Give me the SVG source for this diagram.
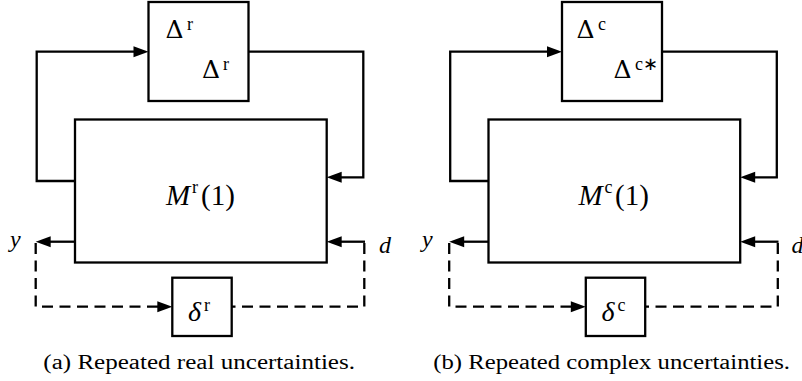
<svg xmlns="http://www.w3.org/2000/svg" width="802" height="381" viewBox="0 0 802 381">
  <rect width="802" height="381" fill="#fff"/>

  <!-- (a) repeated real uncertainties -->
  <g id="panel-a">
    <g id="connectors-a" fill="none" stroke="#000" stroke-width="2.3">
      <path d="M75,181 H36.7 V51.7 H140"/>
      <polygon fill="#000" stroke="none" points="133.5,46.2 148.5,51.7 133.5,57.2"/>
      <path d="M248.3,51.7 H363.3 V177.3 H335"/>
      <polygon fill="#000" stroke="none" points="341.7,171.8 326.7,177.3 341.7,182.8"/>
      <path d="M75,241.7 H44"/>
      <polygon fill="#000" stroke="none" points="50.7,236.2 35.7,241.7 50.7,247.2"/>
      <path d="M365,241.7 H335"/>
      <polygon fill="#000" stroke="none" points="341.7,236.2 326.7,241.7 341.7,247.2"/>
      <path stroke-dasharray="11 6.5" d="M35.7,243 V306.7 H164"/>
      <polygon fill="#000" stroke="none" points="157.3,301.2 172.3,306.7 157.3,312.2"/>
      <path stroke-dasharray="11 6.5" d="M364.3,243 V306.7 H231.7"/>
    </g>
    <g id="delta-r">
      <rect fill="#fff" stroke="#000" stroke-width="2.3" x="148.5" y="2" width="100" height="99"/>
      <text font-family="DejaVu Serif" font-size="25"><tspan x="165.5" y="38.3">Δ</tspan><tspan font-size="18" font-family="Liberation Serif" x="187" y="30">r</tspan></text>
      <text font-family="DejaVu Serif" font-size="25"><tspan x="202" y="78.3">Δ</tspan><tspan font-size="18" font-family="Liberation Serif" x="223" y="70">r</tspan></text>
    </g>
    <g id="m-r">
      <rect fill="#fff" stroke="#000" stroke-width="2.3" x="75" y="119.5" width="251.7" height="143"/>
      <text font-family="Liberation Serif" font-size="29"><tspan font-style="italic" x="166" y="205">M</tspan><tspan font-size="18" x="192" y="193.3">r</tspan><tspan x="201" y="205">(1)</tspan></text>
    </g>
    <g id="small-delta-r">
      <rect fill="#fff" stroke="#000" stroke-width="2.3" x="172.3" y="277.7" width="59.4" height="58.3"/>
      <text font-family="Liberation Serif" font-size="28"><tspan font-style="italic" x="188" y="320.5">δ</tspan><tspan font-size="18" x="204" y="311">r</tspan></text>
    </g>
    <g id="labels-a">
      <text font-style="italic" font-family="Liberation Serif" font-size="24" x="10" y="247">y</text>
      <text font-style="italic" font-family="Liberation Serif" font-size="24" x="379" y="253">d</text>
      <text font-family="Liberation Serif" font-size="20" x="43.3" y="368.8" textLength="311.7" lengthAdjust="spacingAndGlyphs">(a) Repeated real uncertainties.</text>
    </g>
  </g>

  <!-- (b) repeated complex uncertainties -->
  <g id="panel-b" transform="translate(413.5 0)">
    <g id="connectors-b" fill="none" stroke="#000" stroke-width="2.3">
      <path d="M75,181 H36.7 V51.7 H140"/>
      <polygon fill="#000" stroke="none" points="133.5,46.2 148.5,51.7 133.5,57.2"/>
      <path d="M248.3,51.7 H363.3 V177.3 H335"/>
      <polygon fill="#000" stroke="none" points="341.7,171.8 326.7,177.3 341.7,182.8"/>
      <path d="M75,241.7 H44"/>
      <polygon fill="#000" stroke="none" points="50.7,236.2 35.7,241.7 50.7,247.2"/>
      <path d="M365,241.7 H335"/>
      <polygon fill="#000" stroke="none" points="341.7,236.2 326.7,241.7 341.7,247.2"/>
      <path stroke-dasharray="11 6.5" d="M35.7,243 V306.7 H164"/>
      <polygon fill="#000" stroke="none" points="157.3,301.2 172.3,306.7 157.3,312.2"/>
      <path stroke-dasharray="11 6.5" d="M364.3,243 V306.7 H231.7"/>
    </g>
    <g id="delta-c">
      <rect fill="#fff" stroke="#000" stroke-width="2.3" x="148.5" y="2" width="100" height="99"/>
      <text font-family="DejaVu Serif" font-size="25"><tspan x="163" y="38.3">Δ</tspan><tspan font-size="18" font-family="Liberation Serif" x="184.5" y="30">c</tspan></text>
      <text font-family="DejaVu Serif" font-size="25"><tspan x="200" y="78.3">Δ</tspan><tspan font-size="18" font-family="Liberation Serif" x="221.5" y="70">c∗</tspan></text>
    </g>
    <g id="m-c">
      <rect fill="#fff" stroke="#000" stroke-width="2.3" x="75" y="119.5" width="251.7" height="143"/>
      <text font-family="Liberation Serif" font-size="29"><tspan font-style="italic" x="165" y="205">M</tspan><tspan font-size="18" x="191" y="193.3">c</tspan><tspan x="201.5" y="205">(1)</tspan></text>
    </g>
    <g id="small-delta-c">
      <rect fill="#fff" stroke="#000" stroke-width="2.3" x="172.3" y="277.7" width="59.4" height="58.3"/>
      <text font-family="Liberation Serif" font-size="28"><tspan font-style="italic" x="188" y="320.5">δ</tspan><tspan font-size="18" x="204" y="311">c</tspan></text>
    </g>
    <g id="labels-b">
      <text font-style="italic" font-family="Liberation Serif" font-size="24" x="8.5" y="247">y</text>
      <text font-style="italic" font-family="Liberation Serif" font-size="24" x="378" y="253">d</text>
      <text font-family="Liberation Serif" font-size="20" x="19.8" y="368.8" textLength="356.7" lengthAdjust="spacingAndGlyphs">(b) Repeated complex uncertainties.</text>
    </g>
  </g>
</svg>
